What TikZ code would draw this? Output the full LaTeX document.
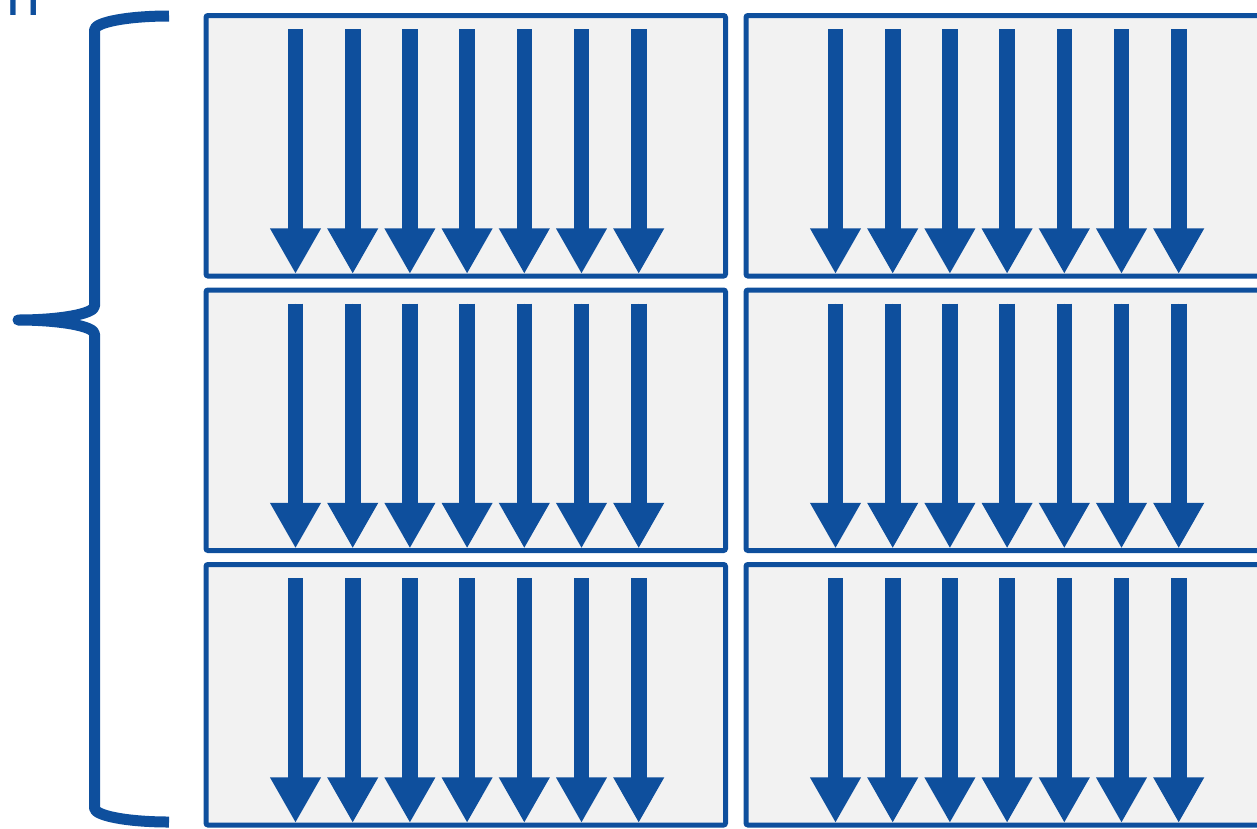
\documentclass[tikz,border=0pt]{standalone}
\usepackage{fontspec}
\newfontfamily\arialfont{Liberation Sans}
\usetikzlibrary{arrows.meta,calc}
\definecolor{dblue}{RGB}{14,79,157}
\definecolor{boxgray}{RGB}{242,242,242}
\tikzset{
  panel/.style={draw=dblue, fill=boxgray, line width=5pt, rounded corners=2pt,
    inner sep=0pt, outer sep=0pt, minimum width=519.5pt, minimum height=260.5pt},
  flowarrow/.style={draw=dblue, line width=15.6pt,
    -{Triangle[length=45.7pt,width=47.6pt]}, fill=dblue},
  bracestyle/.style={draw=dblue, line width=11pt, line join=round, line cap=butt},
}
\begin{document}
\begin{tikzpicture}[x=1pt,y=-1pt]
\useasboundingbox (0,0) rectangle (1257,828);
% cut-off text fragment at top left
\node[anchor=base west, inner sep=0pt, text=dblue,
  font=\arialfont\fontsize{61}{61}\selectfont] (frag) at (6,15) {n};
% panels
\foreach \r in {0,1,2}{
  \foreach \c in {0,1}{
    \node[panel] (b\r\c) at (465.75+540*\c, 145.75+274.5*\r) {};
    \foreach \k in {0,...,6}{
      \coordinate (s\r\c\k) at ($(b\r\c.north west)+(89.5+57.2*\k,13.5)$);
      \coordinate (e\r\c\k) at ($(b\r\c.south west)+(89.5+57.2*\k,-2)$);
      \draw[flowarrow] (s\r\c\k) -- (e\r\c\k);
    }
  }
}
% brace
\coordinate (bt) at (169,16);
\coordinate (bc1) at (94.5,30);
\coordinate (bm1) at (94.5,306);
\coordinate (tip) at (18,320);
\coordinate (bm2) at (94.5,334);
\coordinate (bc2) at (94.5,808);
\coordinate (bb) at (169,822);
\draw[bracestyle] (bt) .. controls (127.6,16) and (94.5,22.3) .. (bc1)
  -- (bm1) .. controls (94.5,313.7) and (60.5,320) .. (tip)
  .. controls (60.5,320) and (94.5,326.3) .. (bm2)
  -- (bc2) .. controls (94.5,815.7) and (127.6,822) .. (bb);
\end{tikzpicture}
\end{document}
